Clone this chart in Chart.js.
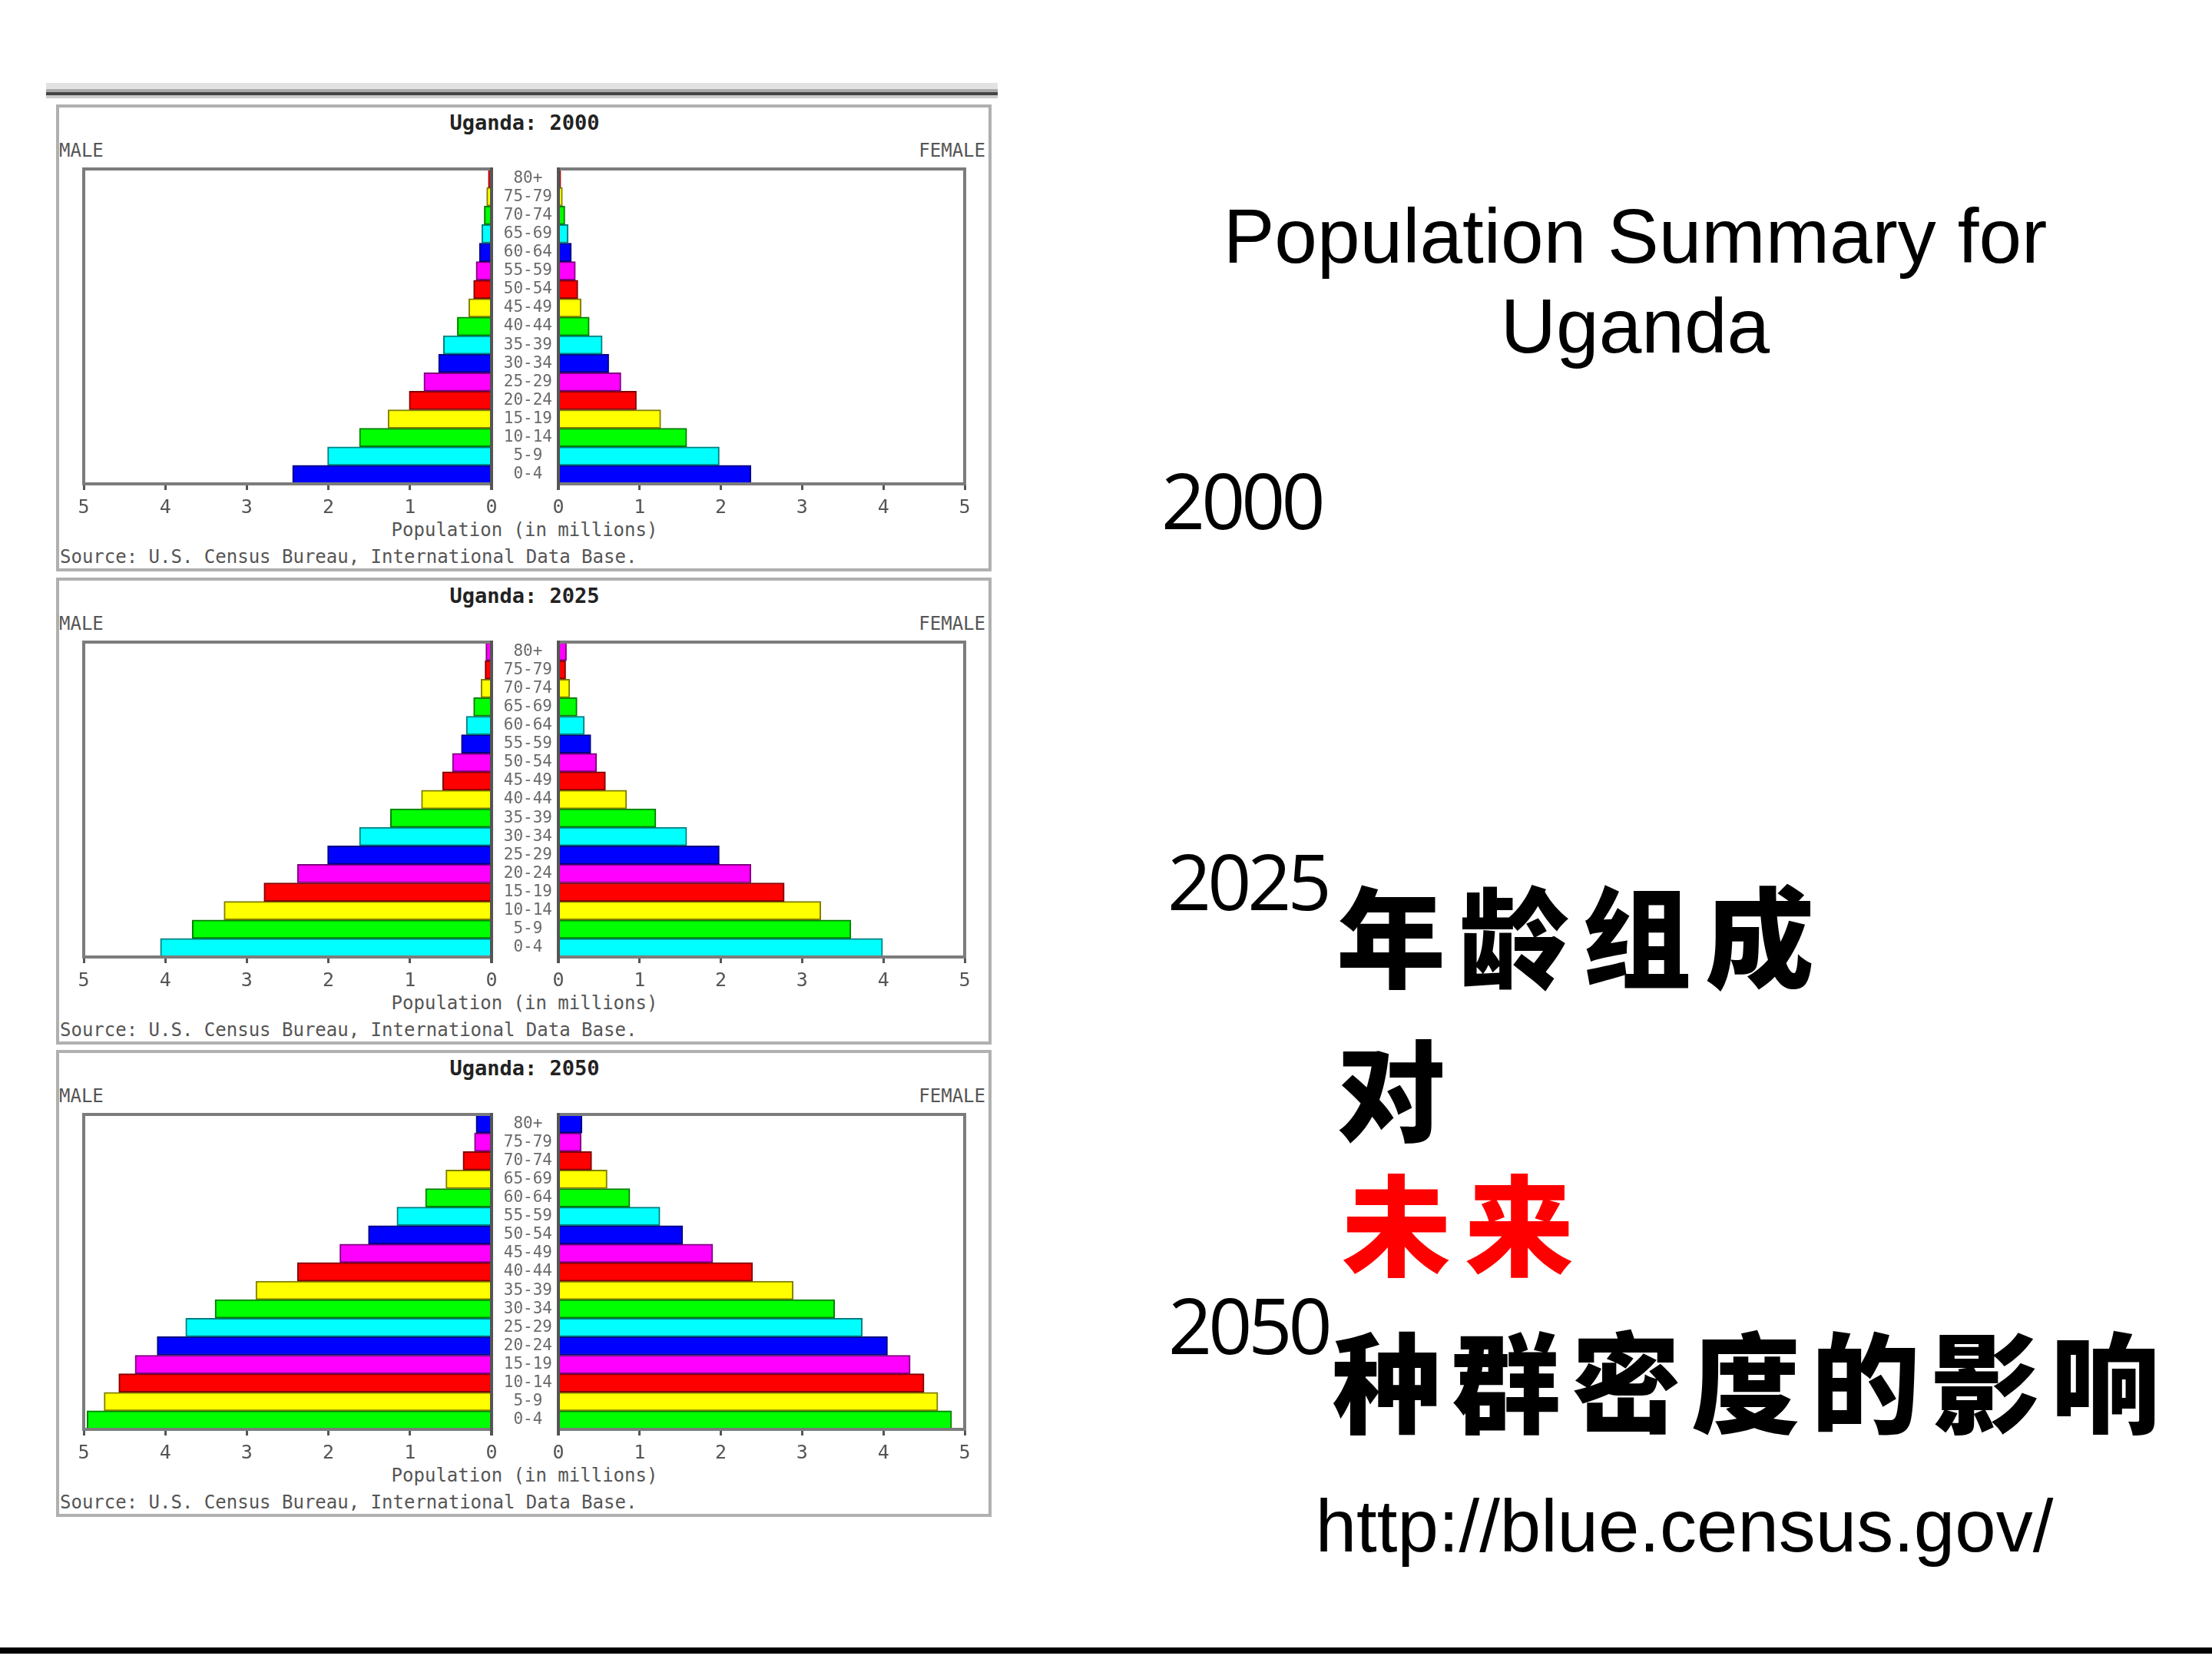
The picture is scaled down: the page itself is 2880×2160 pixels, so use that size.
<!DOCTYPE html>
<html>
<head>
<meta charset="utf-8">
<script src="https://cdn.jsdelivr.net/npm/chart.js@4.4.0/dist/chart.umd.min.js"></script>
<style>
  html, body { margin: 0; padding: 0; background: #fff; }
  body { width: 2880px; height: 2160px; position: relative; overflow: hidden; }
  .abs { position: absolute; white-space: nowrap; }
  .mono { font-family: "DejaVu Sans Mono", monospace; color: #555; }
  .box { position: absolute; left: 73px; width: 1218px; height: 608px; border: 4px solid #b0b0b0; box-sizing: border-box; }
  .big { font-family: "Liberation Sans", Arial, sans-serif; color: #000; }
  .year { font-family: "Open Sans", sans-serif; font-size: 100px; line-height: 100px; letter-spacing: -5px; color: #000; }
  .cjk { font-family: "Noto Sans CJK SC", sans-serif; font-weight: 900; font-size: 142px; line-height: 142px; color: #000; }
</style>
</head>
<body>
<div id="stage"></div>

<!-- double rule over the first pyramid -->
<div class="abs" style="left:60px; top:108px; width:1239px; height:8px; background:#e2e2e2;"></div>
<div class="abs" style="left:60px; top:116px; width:1239px; height:4px; background:#aaaaaa;"></div>
<div class="abs" style="left:60px; top:120px; width:1239px; height:4px; background:#444444;"></div>
<div class="abs" style="left:60px; top:124px; width:1239px; height:4px; background:#cccccc;"></div>

<!-- right side text -->
<div class="abs big" style="left:1429px; top:249px; width:1400px; text-align:center; font-size:100px; line-height:117px;">Population Summary for<br>Uganda</div>
<div class="abs year" style="left:1512px; top:600px;">2000</div>
<div class="abs year" style="left:1520px; top:1096px;">2025</div>
<div class="abs year" style="left:1521px; top:1674px;">2050</div>
<div class="abs cjk" style="left:1740px; top:1142px; letter-spacing:18px;">年龄组成</div>
<div class="abs cjk" style="left:1740px; top:1342px;">对</div>
<div class="abs cjk" style="left:1747px; top:1517px; letter-spacing:18px; color:#ff0000;">未来</div>
<div class="abs cjk" style="left:1734px; top:1722px; letter-spacing:14px;">种群密度的影响</div>
<div class="abs big" style="left:1493px; top:1939px; width:1400px; text-align:center; font-size:96px; line-height:96px;">http://blue.census.gov/</div>

<!-- bottom rule -->
<div class="abs" style="left:0; top:2145px; width:2880px; height:8px; background:#000;"></div>

<script>
// age groups, bottom of the pyramid first
const ageGroups = ['0-4', '5-9', '10-14', '15-19', '20-24', '25-29', '30-34', '35-39',
  '40-44', '45-49', '50-54', '55-59', '60-64', '65-69', '70-74', '75-79', '80+'];

// population in millions
const male2000 = [2.44, 2.01, 1.62, 1.27, 1.01, 0.83, 0.65, 0.59, 0.42, 0.28, 0.22, 0.19, 0.15, 0.12, 0.09, 0.06, 0.04];
const female2000 = [2.37, 1.98, 1.58, 1.26, 0.96, 0.77, 0.62, 0.54, 0.38, 0.28, 0.24, 0.21, 0.16, 0.12, 0.08, 0.05, 0.03];

const male2025 = [4.06, 3.67, 3.28, 2.79, 2.38, 2.01, 1.62, 1.24, 0.86, 0.60, 0.48, 0.37, 0.31, 0.22, 0.13, 0.08, 0.07];
const female2025 = [3.99, 3.60, 3.23, 2.78, 2.37, 1.98, 1.58, 1.20, 0.84, 0.58, 0.47, 0.40, 0.32, 0.23, 0.14, 0.09, 0.10];

const male2050 = [4.96, 4.75, 4.57, 4.37, 4.10, 3.75, 3.39, 2.89, 2.38, 1.86, 1.51, 1.16, 0.81, 0.56, 0.35, 0.21, 0.19];
const female2050 = [4.84, 4.67, 4.50, 4.33, 4.05, 3.74, 3.40, 2.89, 2.39, 1.90, 1.53, 1.25, 0.88, 0.60, 0.41, 0.28, 0.29];

const years = ['2000', '2025', '2050'];
const maleByYear = [male2000, male2025, male2050];
const femaleByYear = [female2000, female2025, female2050];

const xTicks = [0, 1, 2, 3, 4, 5];
const maleLabel = 'MALE';
const femaleLabel = 'FEMALE';
const axisTitle = 'Population (in millions)';
const sourceNote = 'Source: U.S. Census Bureau, International Data Base.';

// colours cycle up the pyramid, starting one step later each year
const fills = ['#0000ff', '#00ffff', '#00ff00', '#ffff00', '#ff0000', '#ff00ff'];
const edges = ['#000080', '#007f7f', '#007f00', '#7f7f00', '#7f0000', '#7f007f'];

const blockTops = [136, 752, 1367];
const PLOT_TOP = 84, PLOT_H = 410, PAD_TOP = 16, XAXIS_H = 48;

// draws the grey frame around each half of a pyramid
const framePlugin = {
  id: 'frame',
  afterDatasetsDraw(chart, args, opts) {
    const { ctx, chartArea: a } = chart;
    const outer = opts.side === 'left' ? a.left : a.right;
    const inner = opts.side === 'left' ? a.right : a.left;
    ctx.save();
    ctx.lineWidth = 4;
    ctx.strokeStyle = '#7c7c7c';
    ctx.beginPath();
    ctx.moveTo(a.left, a.top); ctx.lineTo(a.right, a.top);
    ctx.moveTo(outer, a.top - 2); ctx.lineTo(outer, a.bottom + 2);
    ctx.moveTo(a.left, a.bottom); ctx.lineTo(a.right, a.bottom);
    ctx.stroke();
    ctx.strokeStyle = '#555';
    ctx.beginPath();
    ctx.moveTo(inner, a.top - 2); ctx.lineTo(inner, a.bottom + 8);
    ctx.stroke();
    ctx.restore();
  }
};

const stage = document.getElementById('stage');

function addDiv(cls, style, text) {
  const d = document.createElement('div');
  d.className = cls;
  d.style.cssText = style;
  d.textContent = text;
  stage.appendChild(d);
  return d;
}

function addCanvas(left, top, w, h) {
  const c = document.createElement('canvas');
  c.width = w; c.height = h;
  c.style.cssText = `position:absolute; left:${left}px; top:${top}px; width:${w}px; height:${h}px;`;
  stage.appendChild(c);
  return c.getContext('2d');
}

function halfConfig(values, shift, side) {
  const isLeft = side === 'left';
  return {
    type: 'bar',
    data: {
      labels: ageGroups,
      datasets: [{
        data: values,
        backgroundColor: values.map((v, i) => fills[(i + shift) % 6]),
        borderColor: values.map((v, i) => edges[(i + shift) % 6]),
        borderWidth: 2,
        categoryPercentage: 1,
        barPercentage: 1
      }]
    },
    options: {
      indexAxis: 'y',
      responsive: false,
      animation: false,
      devicePixelRatio: 1,
      layout: { padding: { left: isLeft ? 20 : 0, right: 20, top: PAD_TOP, bottom: 0 } },
      plugins: { legend: { display: false }, tooltip: { enabled: false }, frame: { side: side } },
      scales: {
        x: {
          reverse: isLeft,
          min: 0,
          max: 5,
          afterBuildTicks: s => { s.ticks = xTicks.map(v => ({ value: v })); },
          afterFit: s => { s.height = XAXIS_H; },
          ticks: { color: '#555', padding: 8, font: { family: 'DejaVu Sans Mono', size: 25 } },
          grid: { drawOnChartArea: false, drawTicks: true, tickLength: 8, color: '#555', lineWidth: 3 },
          border: { display: false }
        },
        y: isLeft ? { display: false, reverse: true } : {
          reverse: true,
          position: 'left',
          afterFit: s => { s.width = 87; },
          ticks: { autoSkip: false, crossAlign: 'center', padding: 0, color: '#6a6a6a',
                   font: { family: 'DejaVu Sans Mono', size: 21, lineHeight: 1.1 } },
          grid: { display: false },
          border: { display: false }
        }
      }
    },
    plugins: [framePlugin]
  };
}

years.forEach((year, k) => {
  const top = blockTops[k];
  addDiv('box', `top:${top}px;`, '');
  addDiv('abs mono', `left:483px; width:400px; text-align:center; top:${top + 8}px; font-size:27px; line-height:32px; font-weight:bold; color:#222;`, 'Uganda: ' + year);
  addDiv('abs mono', `left:77px; top:${top + 46}px; font-size:24px; line-height:28px;`, maleLabel);
  addDiv('abs mono', `left:882px; width:401px; text-align:right; top:${top + 46}px; font-size:24px; line-height:28px;`, femaleLabel);
  addDiv('abs mono', `left:433px; width:500px; text-align:center; top:${top + 539}px; font-size:24px; line-height:30px;`, axisTitle);
  addDiv('abs mono', `left:78px; top:${top + 574}px; font-size:24px; line-height:30px;`, sourceNote);

  const canvasTop = top + PLOT_TOP - PAD_TOP;
  const h = PAD_TOP + PLOT_H + XAXIS_H;
  new Chart(addCanvas(89, canvasTop, 571, h), halfConfig(maleByYear[k], k, 'left'));
  new Chart(addCanvas(640, canvasTop, 636, h), halfConfig(femaleByYear[k], k, 'right'));
});
</script>
</body>
</html>
